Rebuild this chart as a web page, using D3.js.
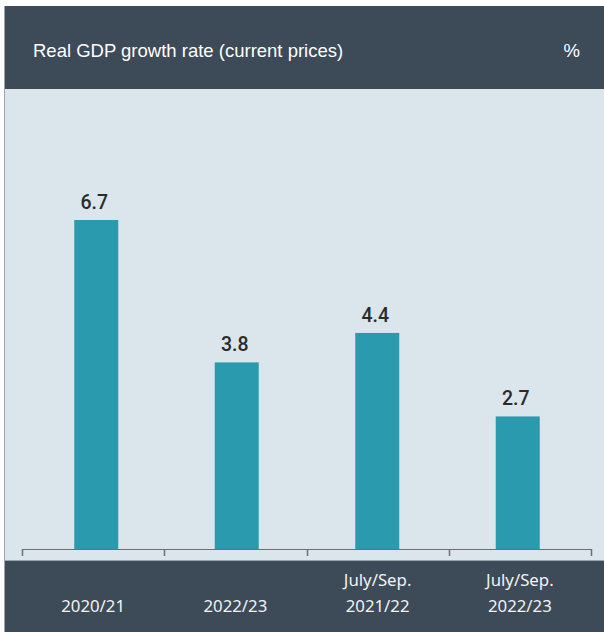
<!DOCTYPE html>
<html>
<head>
<meta charset="utf-8">
<script src="https://cdn.jsdelivr.net/npm/d3@7"></script>
<style>
  html, body { margin: 0; padding: 0; background: #ffffff; }
  svg { display: block; }
</style>
</head>
<body>
<svg id="chart" width="604" height="632"></svg>
<script>
// Real GDP growth, %
const categories = ["2020/21", "2022/23", "July/Sep.\n2021/22", "July/Sep.\n2022/23"];
const values = [6.7, 3.8, 4.4, 2.7];
const title = "Real GDP growth rate (current prices)";
const unit = "%";

const W = 604, H = 632;
const panel = { x: 4, y: 6, w: 600, h: 626 };
const headerH = 83;       // dark title band
const footerTop = 560;    // dark category band

const svg = d3.select("#chart");

// panel background
svg.append("rect").attr("x", panel.x).attr("y", panel.y)
  .attr("width", panel.w).attr("height", panel.h).attr("fill", "#dbe5ec");
svg.append("rect").attr("x", panel.x).attr("y", panel.y)
  .attr("width", panel.w).attr("height", headerH).attr("fill", "#3d4a58");
svg.append("rect").attr("x", panel.x).attr("y", footerTop)
  .attr("width", panel.w).attr("height", H - footerTop).attr("fill", "#3d4a58");
svg.append("line").attr("x1", panel.x).attr("x2", W)
  .attr("y1", footerTop + 0.5).attr("y2", footerTop + 0.5)
  .attr("stroke", "#9aa6b0").attr("stroke-width", 1);
svg.append("line").attr("x1", panel.x + 0.5).attr("x2", panel.x + 0.5)
  .attr("y1", panel.y).attr("y2", H)
  .attr("stroke", "#9aa6b0").attr("stroke-width", 1);

// header texts
svg.append("text").attr("x", 33).attr("y", 57)
  .attr("font-family", "'Liberation Sans', Arial, sans-serif")
  .attr("font-size", 18.5).attr("fill", "#ffffff").text(title);
svg.append("text").attr("x", 580).attr("y", 57).attr("text-anchor", "end")
  .attr("font-family", "'Liberation Sans', Arial, sans-serif")
  .attr("font-size", 18.5).attr("fill", "#ffffff").text(unit);

// scales: axis bands and bar positions
const x = d3.scaleBand().domain(categories).range([22, 591]);
const xBar = d3.scaleBand().domain(categories).range([26, 588]);
const baseY = 549;
const y = d3.scaleLinear().domain([0, 6.7]).range([baseY, 220]);
const barW = 44;

// bars
svg.append("g").selectAll("rect").data(values).join("rect")
  .attr("x", (d, i) => xBar(categories[i]) + xBar.bandwidth() / 2 - barW / 2)
  .attr("y", d => y(d))
  .attr("width", barW)
  .attr("height", d => baseY - y(d))
  .attr("fill", "#2a9aae");

// value labels
svg.append("g").selectAll("text").data(values).join("text")
  .attr("x", (d, i) => xBar(categories[i]) + xBar.bandwidth() / 2 - 2)
  .attr("y", d => y(d) - 11)
  .attr("text-anchor", "middle")
  .attr("font-family", "Roboto, 'Liberation Sans', Arial, sans-serif")
  .attr("font-weight", 500)
  .attr("font-size", 19.5).attr("fill", "#2b2b2b")
  .text(d => d.toFixed(1));

// axis with tick marks at band edges
const axis = svg.append("g");
axis.append("line").attr("x1", 22).attr("x2", 591)
  .attr("y1", baseY + 0.5).attr("y2", baseY + 0.5)
  .attr("stroke", "#6f6f6f").attr("stroke-width", 1);
const edges = categories.map(c => x(c)).concat([x(categories[categories.length - 1]) + x.bandwidth()]);
axis.selectAll("line.tick").data(edges).join("line").attr("class", "tick")
  .attr("x1", d => Math.round(d) + 0.5).attr("x2", d => Math.round(d) + 0.5)
  .attr("y1", baseY).attr("y2", 556)
  .attr("stroke", "#6f6f6f").attr("stroke-width", 1.5);

// category labels
const cat = svg.append("g").selectAll("text").data(categories).join("text")
  .attr("x", d => x(d) + x.bandwidth() / 2)
  .attr("text-anchor", "middle")
  .attr("font-family", "'Noto Sans', 'Open Sans', sans-serif")
  .attr("font-size", 16.8).attr("fill", "#f2f2f2");
cat.each(function(d) {
  const lines = d.split("\n");
  const t = d3.select(this);
  lines.forEach((ln, j) => {
    t.append("tspan").attr("x", x(d) + x.bandwidth() / 2)
      .attr("y", 612 - (lines.length - 1 - j) * 26).text(ln);
  });
});
</script>
</body>
</html>
